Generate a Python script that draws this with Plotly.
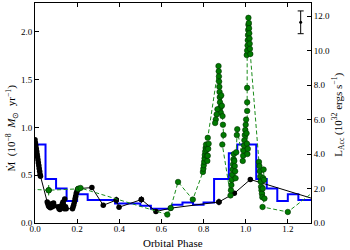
import plotly.graph_objects as go

# ---------------- data ----------------
# blue step model (left axis, Mdot)
blue_edges = [0.00, 0.05, 0.10, 0.15, 0.20, 0.25, 0.38, 0.50, 0.55, 0.65, 0.70,
              0.75, 0.80, 0.85, 0.92, 0.96, 1.05, 1.10, 1.15, 1.20, 1.25, 1.31]
blue_mdot = [0.82, 0.46, 0.36, 0.23, 0.30, 0.24, 0.205, 0.18, 0.15, 0.19, 0.215,
             0.19, 0.215, 0.46, 0.73, 0.82, 0.46, 0.36, 0.23, 0.30, 0.24]

# black series (left axis, Mdot)
black_phase = [0.000, 0.002, 0.004, 0.006, 0.008, 0.010, 0.012, 0.014, 0.016, 0.018,
               0.020, 0.022, 0.024, 0.026,
               0.058, 0.061, 0.064, 0.067, 0.070, 0.073, 0.076, 0.079, 0.082, 0.085,
               0.088, 0.091,
               0.110, 0.114, 0.118, 0.122, 0.126, 0.130, 0.133, 0.136, 0.139, 0.141,
               0.145, 0.148,
               0.178, 0.181, 0.184, 0.187, 0.190, 0.193, 0.196, 0.199, 0.202, 0.206,
               0.270, 0.324, 0.386, 0.399, 0.505, 0.574, 0.644, 0.873, 0.946, 1.022, 1.40]
black_mdot = [0.87, 0.84, 0.81, 0.78, 0.75, 0.72, 0.69, 0.66, 0.63, 0.60,
              0.57, 0.54, 0.51, 0.49,
              0.22, 0.20, 0.18, 0.17, 0.18, 0.16, 0.18, 0.20, 0.17, 0.19,
              0.21, 0.18,
              0.17, 0.15, 0.14, 0.16, 0.18, 0.20, 0.22, 0.18, 0.15, 0.25,
              0.17, 0.15,
              0.15, 0.17, 0.19, 0.22, 0.25, 0.28, 0.31, 0.33, 0.35, 0.36,
              0.37, 0.185, 0.24, 0.165, 0.245, 0.12, 0.155, 0.22, 0.31, 0.455, 0.20]
black_err_phase = [0.386, 0.505, 0.873]
black_err_mdot = [0.24, 0.245, 0.22]
black_err_size = [0.035, 0.035, 0.035]

# green series (right axis, L_acc)
green_phase = [-0.08, 0.065, 0.205, 0.216, 0.628, 0.644, 0.679, 0.749,
               # cluster A
               0.797, 0.799, 0.801, 0.803, 0.805, 0.806, 0.808, 0.810, 0.812, 0.814,
               0.816, 0.818, 0.820, 0.822, 0.824, 0.820,
               # cluster B
               0.871, 0.872, 0.873, 0.874, 0.875, 0.876, 0.877, 0.878, 0.880, 0.882,
               0.866, 0.862, 0.858, 0.855, 0.884, 0.887, 0.890, 0.892, 0.895, 0.889,
               # cluster C
               0.928, 0.930, 0.932, 0.934, 0.936, 0.938, 0.940, 0.942, 0.944, 0.946,
               0.948, 0.950, 0.952, 0.955, 0.958, 0.960,
               # cluster D
               0.986, 0.988, 0.990, 0.992, 0.994, 0.996, 0.998, 1.000, 1.002, 1.004,
               1.006, 1.008, 1.010, 1.007, 1.007, 1.007,
               # cluster E
               1.005, 1.007, 1.009, 1.010, 1.011, 1.012, 1.013, 1.013, 1.015, 1.016,
               1.017, 1.018, 1.019, 1.020, 1.022,
               # cluster F
               1.063, 1.065, 1.067, 1.069, 1.071, 1.073, 1.075, 1.077, 1.079, 1.081,
               1.083, 1.085, 1.087, 1.089,
               1.080, 1.200, 1.350]
green_lacc = [2.00, 1.90, 1.98, 2.03, 0.49, 0.87, 2.38, 1.36,
              2.96, 3.15, 3.35, 3.55, 3.75, 3.95, 4.15, 4.35, 4.55, 4.25,
              3.90, 3.60, 3.90, 4.30, 4.60, 4.94,
              9.10, 8.80, 8.50, 8.20, 7.90, 7.60, 7.30, 7.00, 6.70, 6.40,
              6.60, 6.30, 6.00, 5.80, 7.40, 6.80, 6.20, 5.70, 5.10, 4.55,
              1.60, 1.90, 2.20, 2.50, 2.80, 3.10, 3.40, 3.70, 4.00, 3.60,
              3.30, 3.00, 2.60, 4.10, 5.10, 5.44,
              3.60, 3.90, 4.20, 4.50, 4.80, 5.10, 5.40, 5.70, 6.00, 5.20,
              4.60, 4.00, 4.30, 6.50, 7.00, 7.84,
              9.74, 10.00, 10.30, 10.60, 10.90, 11.20, 11.50, 11.90, 11.60, 11.30,
              11.00, 10.70, 10.40, 10.10, 9.80,
              3.54, 3.30, 3.00, 2.70, 2.40, 2.10, 1.90, 1.70, 1.50, 2.00,
              2.60, 3.10, 2.50, 1.42,
              0.93, 0.64, 2.08]
green_err_phase = [0.065]
green_err_lacc = [1.90]
green_err_size = [0.30]

# representative error bar (right axis)
rep_phase = [1.261]
rep_lacc = [11.64]
rep_err = [0.66]

# axis ticks
y1_ticks = [0.0, 0.5, 1.0, 1.5, 2.0]
y2_ticks = [0.0, 2.0, 4.0, 6.0, 8.0, 10.0, 12.0]
x_ticks = [0.0, 0.2, 0.4, 0.6, 0.8, 1.0, 1.2]

# ---------------- figure ----------------
FONT = "Liberation Serif, Times New Roman, serif"
fig = go.Figure()

fig.add_trace(go.Scatter(
    x=blue_edges, y=blue_mdot + [blue_mdot[-1]], mode="lines",
    line=dict(color="#0000ff", width=2, shape="hv"), yaxis="y", hoverinfo="skip"))

fig.add_trace(go.Scatter(
    x=green_phase, y=green_lacc, mode="lines+markers", yaxis="y2",
    line=dict(color="#1a8c1a", width=1, dash="4px,2.5px"),
    marker=dict(size=5.5, color="#007a00", line=dict(color="#003000", width=0.6))))

fig.add_trace(go.Scatter(
    x=green_err_phase, y=green_err_lacc, mode="markers", yaxis="y2",
    marker=dict(size=5.5, color="#007a00", line=dict(color="#003000", width=0.6)),
    error_y=dict(type="data", array=green_err_size, color="#008000", thickness=1, width=0)))

fig.add_trace(go.Scatter(
    x=black_phase, y=black_mdot, mode="lines+markers", yaxis="y",
    line=dict(color="black", width=1),
    marker=dict(size=5.5, color="black")))

fig.add_trace(go.Scatter(
    x=black_err_phase, y=black_err_mdot, mode="markers", yaxis="y",
    marker=dict(size=5.5, color="black"),
    error_y=dict(type="data", array=black_err_size, color="black", thickness=1, width=0)))

fig.add_trace(go.Scatter(
    x=rep_phase, y=rep_lacc, mode="markers", yaxis="y2",
    marker=dict(size=3, color="black"),
    error_y=dict(type="data", array=rep_err, color="black", thickness=1, width=3)))

axis_common = dict(showline=True, linecolor="black", linewidth=1, ticks="inside",
                   ticklen=4, tickcolor="black", tickwidth=1, showgrid=False,
                   zeroline=False, tickfont=dict(family=FONT, size=9, color="black"))

fig.update_layout(
    width=350, height=250,
    margin=dict(l=35, r=39, t=3, b=27),
    paper_bgcolor="white", plot_bgcolor="white",
    showlegend=False,
    xaxis=dict(range=[0, 1.31], tickvals=x_ticks, tickformat=".1f", mirror="ticks",
               ticklabelstandoff=-3, **axis_common),
    yaxis=dict(range=[0, 2.3], tickvals=y1_ticks, tickformat=".1f", mirror=True,
               **axis_common),
    yaxis2=dict(range=[0, 12.76], tickvals=y2_ticks, tickformat=".1f", overlaying="y",
                side="right", **axis_common),
    annotations=[
        dict(text="Orbital Phase", xref="paper", yref="paper", x=0.5, y=-0.09,
             xanchor="center", yanchor="middle", showarrow=False,
             font=dict(family=FONT, size=11, color="black")),
        dict(text="Ṁ  (10<sup>−8</sup>  <i>M</i><sub>⊙</sub>  yr<sup>−1</sup>)",
             xref="paper", yref="paper", x=-0.083, y=0.43, textangle=-90,
             xanchor="center", yanchor="middle", showarrow=False,
             font=dict(family=FONT, size=11, color="black")),
        dict(text="L<sub>Acc</sub> (10<sup>32</sup> ergs s<sup>−1</sup>)",
             xref="paper", yref="paper", x=1.10, y=0.49, textangle=-90,
             xanchor="center", yanchor="middle", showarrow=False,
             font=dict(family=FONT, size=11, color="black")),
    ],
)

fig.write_html("out.html", config={"displayModeBar": False},
               post_script="document.body.style.margin='0';")
